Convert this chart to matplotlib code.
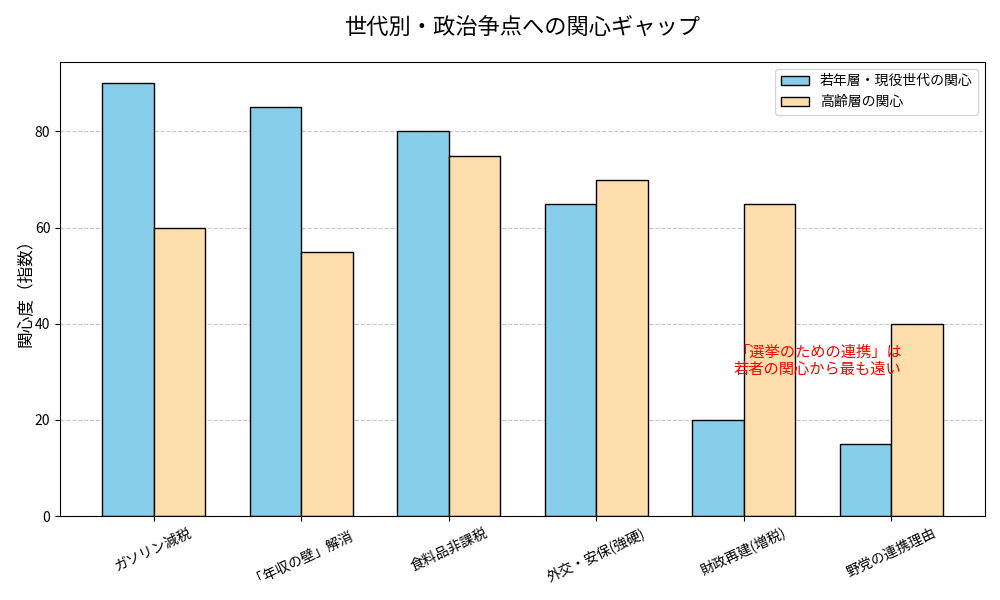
import matplotlib
matplotlib.use("Agg")
import matplotlib.pyplot as plt
import numpy as np

plt.rcParams['font.family'] = ['Noto Sans CJK JP', 'DejaVu Sans']

categories = ['ガソリン減税', '「年収の壁」解消', '食料品非課税', '外交・安保(強硬)', '財政再建(増税)', '野党の連携理由']
young = [90, 85, 80, 65, 20, 15]
elder = [60, 55, 75, 70, 65, 40]
series_labels = ['若年層・現役世代の関心', '高齢層の関心']

fig, ax = plt.subplots(figsize=(10, 6), dpi=100)
x = np.arange(len(categories))
w = 0.35
ax.bar(x - w/2, young, w, label=series_labels[0], color='#87CEEB', edgecolor='black')
ax.bar(x + w/2, elder, w, label=series_labels[1], color='#FFDEAD', edgecolor='black')

ax.set_xticks(x)
ax.set_xticklabels(categories, rotation=25, fontsize=10)
ax.set_ylabel('関心度（指数）', fontsize=12, labelpad=0)
ax.set_title('世代別・政治争点への関心ギャップ', fontsize=16, pad=20)
ax.yaxis.grid(True, linestyle='--', alpha=0.7)
ax.set_axisbelow(True)
ax.legend(fontsize=10, loc='upper right')
ax.text(4.5, 32.3, '「選挙のための連携」は\n若者の関心から最も遠い', color='red', fontsize=11,
        ha='center', va='center', linespacing=1.0)

fig.subplots_adjust(left=0.06, right=0.985, top=0.897, bottom=0.14)
fig.savefig('out.png', dpi=100)
